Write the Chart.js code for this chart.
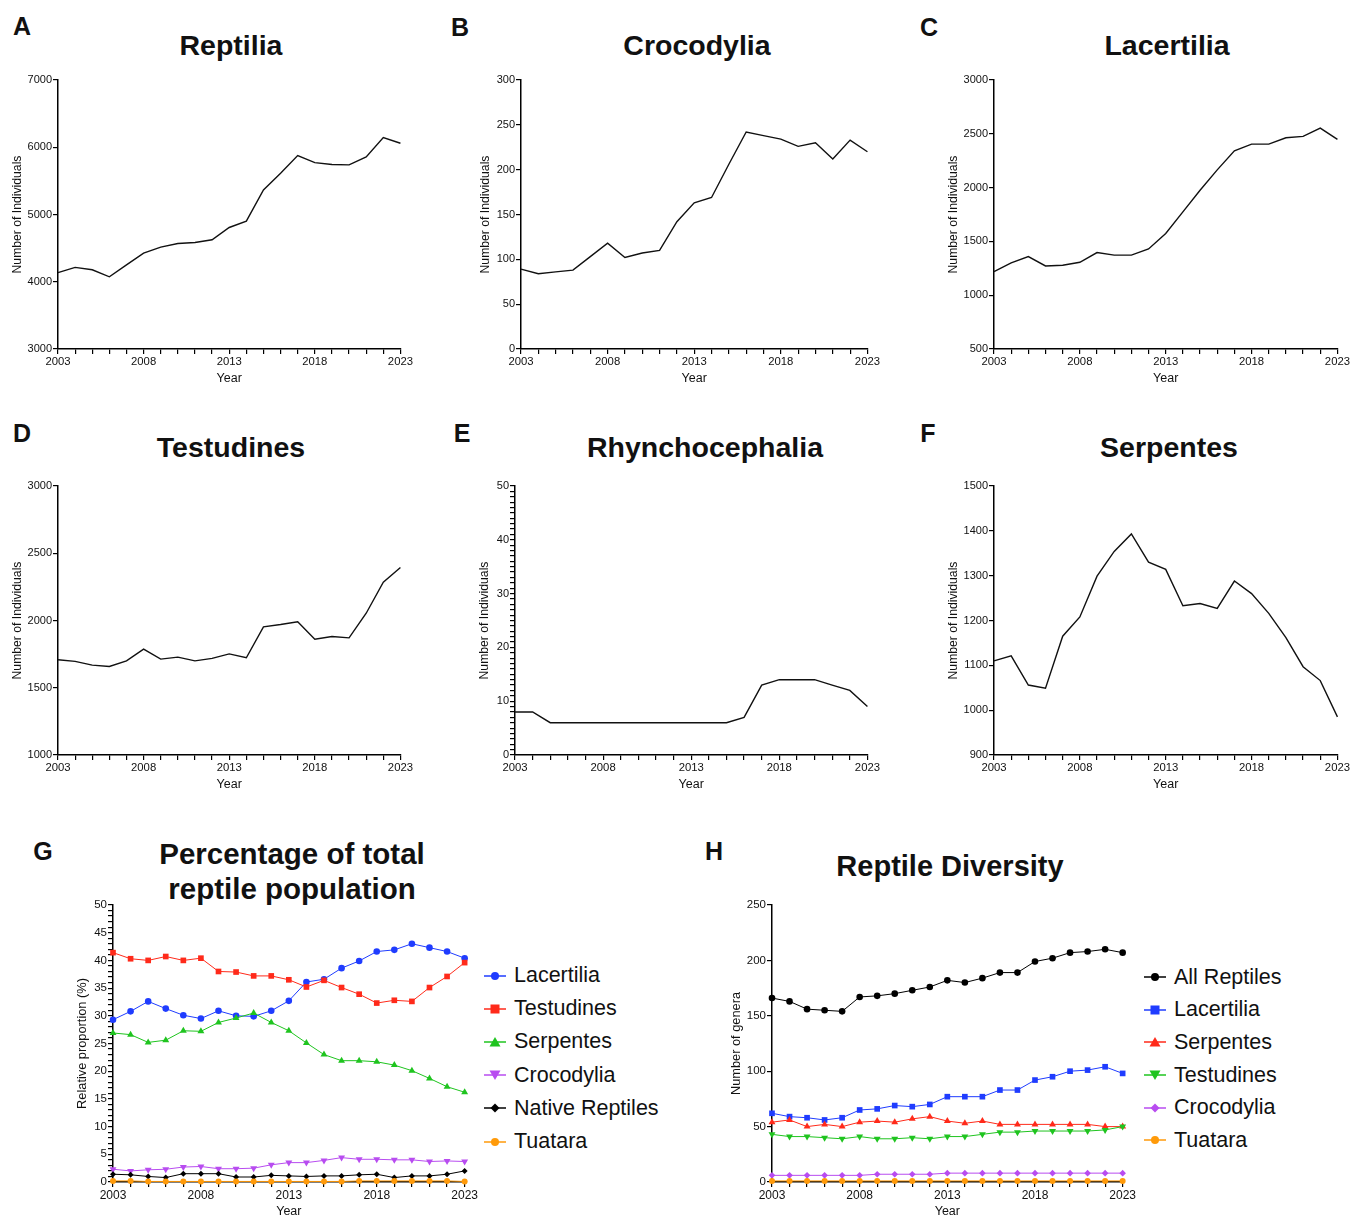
<!DOCTYPE html>
<html>
<head>
<meta charset="utf-8">
<script src="https://cdn.jsdelivr.net/npm/chart.js@4.4.0/dist/chart.umd.min.js"></script>
<style>
  html, body { margin: 0; padding: 0; background: #fff; overflow: hidden; }
  #page { position: relative; width: 1351px; height: 1216px; font-family: "Liberation Sans", Arial, Helvetica, sans-serif; color: #111; }
  .box { position: absolute; }
  .letter { position: absolute; font-weight: bold; font-size: 25px; line-height: 1; transform: translate(-50%, -50%); }
  .title { position: absolute; font-weight: bold; font-size: 28px; line-height: 1; transform: translate(-50%, -50%); white-space: nowrap; text-align: center; }
  .legend { position: absolute; font-size: 21.5px; }
  .legend div { display: flex; align-items: center; height: 33px; white-space: nowrap; }
  .legend svg { margin-right: 8px; }
</style>
</head>
<body>
<div id="page"></div>
<script>
const years = ['2003', '2004', '2005', '2006', '2007', '2008', '2009', '2010', '2011', '2012', '2013',
  '2014', '2015', '2016', '2017', '2018', '2019', '2020', '2021', '2022', '2023'];

// A-F: number of individuals
const reptilia = [4135, 4213, 4178, 4074, 4250, 4426, 4515, 4569, 4584, 4624, 4807,
  4901, 5366, 5614, 5876, 5772, 5743, 5738, 5856, 6144, 6059];
const crocodylia = [89, 84, 86, 88, 103, 118, 102, 107, 110, 142, 163,
  169, 206, 242, 238, 234, 226, 230, 212, 233, 220];
const lacertilia = [1220, 1300, 1359, 1272, 1278, 1306, 1396, 1372, 1372, 1430, 1573,
  1775, 1975, 2165, 2342, 2404, 2404, 2463, 2476, 2553, 2448];
const testudines = [1708, 1696, 1668, 1658, 1700, 1787, 1713, 1728, 1700, 1718, 1752,
  1723, 1953, 1970, 1990, 1861, 1881, 1871, 2054, 2285, 2394];
const rhynchocephalia = [8, 8, 6, 6, 6, 6, 6, 6, 6, 6, 6,
  6, 6, 7, 13, 14, 14, 14, 13, 12, 9];
const serpentes = [1110, 1121, 1056, 1049, 1165, 1208, 1299, 1354, 1393, 1330, 1314,
  1233, 1238, 1227, 1288, 1260, 1216, 1162, 1097, 1066, 985];

// G: percentage of total reptile population
const pctLacertilia = [29.3, 30.8, 32.6, 31.3, 30.1, 29.5, 30.9, 30.0, 29.9, 30.9, 32.7,
  36.1, 36.6, 38.6, 39.9, 41.6, 41.9, 43.0, 42.3, 41.6, 40.4];
const pctTestudines = [41.4, 40.3, 40.0, 40.7, 40.0, 40.4, 38.0, 37.9, 37.2, 37.2, 36.5,
  35.2, 36.4, 35.1, 33.9, 32.3, 32.8, 32.6, 35.1, 37.1, 39.6];
const pctSerpentes = [26.9, 26.6, 25.2, 25.6, 27.3, 27.2, 28.8, 29.6, 30.5, 28.8, 27.3,
  25.1, 23.0, 21.9, 21.9, 21.7, 21.1, 20.1, 18.7, 17.2, 16.2];
const pctCrocodylia = [2.3, 2.0, 2.2, 2.3, 2.7, 2.8, 2.4, 2.4, 2.5, 3.1, 3.5,
  3.5, 3.9, 4.4, 4.1, 4.1, 4.0, 4.0, 3.7, 3.8, 3.7];
const pctNative = [1.4, 1.3, 1.0, 0.8, 1.5, 1.5, 1.5, 0.9, 0.9, 1.2, 1.1,
  1.0, 1.1, 1.1, 1.3, 1.4, 0.8, 1.1, 1.1, 1.4, 2.0];
const pctTuatara = [0.2, 0.2, 0.1, 0.1, 0.1, 0.1, 0.1, 0.1, 0.1, 0.1, 0.1,
  0.1, 0.1, 0.1, 0.2, 0.2, 0.2, 0.2, 0.2, 0.2, 0.1];

// H: number of genera
const genAll = [166, 163, 156, 155, 154, 167, 168, 170, 173, 176, 182,
  180, 184, 189, 189, 199, 202, 207, 208, 210, 207];
const genLacertilia = [62, 59, 58, 56, 58, 65, 66, 69, 68, 70, 77,
  77, 77, 83, 83, 92, 95, 100, 101, 104, 98];
const genSerpentes = [54, 56, 50, 52, 50, 54, 55, 54, 57, 59, 55,
  53, 55, 52, 52, 52, 52, 52, 52, 50, 50];
const genTestudines = [43, 41, 41, 40, 39, 41, 39, 39, 40, 39, 41,
  41, 43, 45, 45, 46, 46, 46, 46, 47, 50];
const genCrocodylia = [6, 6, 6, 6, 6, 6, 7, 7, 7, 7, 8,
  8, 8, 8, 8, 8, 8, 8, 8, 8, 8];
const genTuatara = [1, 1, 1, 1, 1, 1, 1, 1, 1, 1, 1,
  1, 1, 1, 1, 1, 1, 1, 1, 1, 1];

const BLUE = '#1f3cff', RED = '#ff2a1a', GREEN = '#1fc41f', PURPLE = '#b84cf0', BLACK = '#000', ORANGE = '#ff9a0a';

Chart.defaults.font.family = '"Liberation Sans", Arial, Helvetica, sans-serif';
Chart.defaults.color = '#111';

const page = document.getElementById('page');

function addText(cls, x, y, html, extra) {
  page.insertAdjacentHTML('beforeend', `<div class="${cls}" style="left:${x}px;top:${y}px;${extra || ''}">${html}</div>`);
}

function addCanvas(id, left, top, w, h) {
  page.insertAdjacentHTML('beforeend',
    `<div class="box" style="left:${left}px;top:${top}px;width:${w}px;height:${h}px"><canvas id="${id}" width="${w}" height="${h}"></canvas></div>`);
  return document.getElementById(id).getContext('2d');
}

function xAxis(fs) {
  return {
    type: 'category',
    offset: false,
    grid: { drawOnChartArea: false, tickLength: 5, color: '#000', lineWidth: 1.2 },
    border: { color: '#000', width: 1.5 },
    ticks: {
      autoSkip: false, maxRotation: 0, padding: 1, font: { size: fs },
      callback: (v, i) => (i % 5 === 0 ? years[i] : ''),
    },
    title: { display: true, text: 'Year', font: { size: 12.5 }, padding: { top: 0, bottom: 3 } },
    afterFit: (s) => { s.height = 40; },
  };
}

function yAxis(min, max, step, major, text, wy, fs, tfs) {
  return {
    type: 'linear',
    min: min,
    max: max,
    grid: { drawOnChartArea: false, tickLength: 5, color: '#000', lineWidth: 1.2 },
    border: { color: '#000', width: 1.5 },
    ticks: {
      stepSize: step, autoSkip: false, padding: 1, font: { size: fs },
      callback: (v) => (v % major === 0 ? v : ''),
    },
    title: { display: true, text: text, font: { size: tfs }, padding: { top: 2, bottom: 0 } },
    afterFit: (s) => { s.width = wy; },
  };
}

function drawPanel(id, g, datasets, yScale, xfs) {
  const padT = 10, padR = 12;
  const ctx = addCanvas(id, g.axisX - g.wy, g.top - padT, g.wy + g.plotW + padR, padT + g.plotH + 40);
  return new Chart(ctx, {
    type: 'line',
    data: { labels: years, datasets: datasets },
    options: {
      responsive: false,
      animation: false,
      devicePixelRatio: 1,
      layout: { padding: { left: 0, top: padT, right: padR, bottom: 0 } },
      plugins: { legend: { display: false }, tooltip: { enabled: false } },
      scales: { x: xAxis(xfs || 11.3), y: yScale },
    },
  });
}

function simpleLine(values) {
  return [{ data: values, borderColor: '#111', borderWidth: 1.4, pointRadius: 0, tension: 0, fill: false }];
}

function markedLine(label, values, color, style, radius, rotation) {
  return {
    label: label, data: values, borderColor: color, backgroundColor: color, borderWidth: 1,
    pointStyle: style, pointRadius: radius, pointRotation: rotation || 0,
    pointBorderWidth: 0, tension: 0, fill: false, clip: false,
  };
}

// panel letters and titles
addText('letter', 22, 26, 'A');
addText('letter', 460, 27, 'B');
addText('letter', 929, 27, 'C');
addText('letter', 22, 433, 'D');
addText('letter', 462, 433, 'E');
addText('letter', 928, 433, 'F');
addText('letter', 43, 851, 'G');
addText('letter', 714, 851, 'H');

addText('title', 231, 45, 'Reptilia', 'font-size:28.5px');
addText('title', 697, 45, 'Crocodylia', 'font-size:28.5px');
addText('title', 1167, 45, 'Lacertilia', 'font-size:28.5px');
addText('title', 231, 447, 'Testudines', 'font-size:28.5px');
addText('title', 705, 447, 'Rhynchocephalia', 'font-size:28.5px');
addText('title', 1169, 447, 'Serpentes', 'font-size:28.5px');
addText('title', 292, 871, 'Percentage of total<br>reptile population', 'line-height:35px;font-size:29.5px');
addText('title', 950, 866, 'Reptile Diversity', 'font-size:29px');

const NI = 'Number of Individuals';

drawPanel('chartA', { axisX: 58, top: 80, plotW: 344, plotH: 269, wy: 50 },
  simpleLine(reptilia), yAxis(3000, 7000, 1000, 1000, NI, 50, 11, 12.2));
drawPanel('chartB', { axisX: 521, top: 80, plotW: 348, plotH: 269, wy: 45 },
  simpleLine(crocodylia), yAxis(0, 300, 50, 50, NI, 45, 11, 12.2));
drawPanel('chartC', { axisX: 994, top: 80, plotW: 345, plotH: 269, wy: 50 },
  simpleLine(lacertilia), yAxis(500, 3000, 500, 500, NI, 50, 11, 12.2));
drawPanel('chartD', { axisX: 58, top: 486, plotW: 344, plotH: 269, wy: 50 },
  simpleLine(testudines), yAxis(1000, 3000, 500, 500, NI, 50, 11, 12.2));
drawPanel('chartE', { axisX: 515, top: 486, plotW: 354, plotH: 269, wy: 40 },
  simpleLine(rhynchocephalia), yAxis(0, 50, 1, 10, NI, 40, 11, 12.2));
drawPanel('chartF', { axisX: 994, top: 486, plotW: 345, plotH: 269, wy: 50 },
  simpleLine(serpentes), yAxis(900, 1500, 100, 100, NI, 50, 11, 12.2));

drawPanel('chartG', { axisX: 113, top: 905, plotW: 354, plotH: 277, wy: 40 }, [
  markedLine('Tuatara', pctTuatara, ORANGE, 'circle', 3),
  markedLine('Native Reptiles', pctNative, BLACK, 'rectRot', 3),
  markedLine('Crocodylia', pctCrocodylia, PURPLE, 'triangle', 4, 180),
  markedLine('Serpentes', pctSerpentes, GREEN, 'triangle', 4),
  markedLine('Testudines', pctTestudines, RED, 'rect', 4),
  markedLine('Lacertilia', pctLacertilia, BLUE, 'circle', 3.3),
], yAxis(0, 50, 1, 5, 'Relative proportion (%)', 40, 11.5, 12.8), 12);

drawPanel('chartH', { axisX: 772, top: 905, plotW: 353, plotH: 277, wy: 45 }, [
  markedLine('Tuatara', genTuatara, ORANGE, 'circle', 3),
  markedLine('Crocodylia', genCrocodylia, PURPLE, 'rectRot', 3.3),
  markedLine('Testudines', genTestudines, GREEN, 'triangle', 4, 180),
  markedLine('Serpentes', genSerpentes, RED, 'triangle', 4),
  markedLine('Lacertilia', genLacertilia, BLUE, 'rect', 4),
  markedLine('All Reptiles', genAll, BLACK, 'circle', 3.3),
], yAxis(0, 250, 50, 50, 'Number of genera', 45, 11.5, 12.8), 12);

// legends (line + marker, like the original)
const markers = {
  circle: (c) => `<circle cx="11" cy="7" r="4" fill="${c}"/>`,
  rect: (c) => `<rect x="6.5" y="2.5" width="9" height="9" fill="${c}"/>`,
  tri: (c) => `<polygon points="11,2 16.5,11.5 5.5,11.5" fill="${c}"/>`,
  triDown: (c) => `<polygon points="5.5,2.5 16.5,2.5 11,12" fill="${c}"/>`,
  diamond: (c) => `<polygon points="11,2.5 15.5,7 11,11.5 6.5,7" fill="${c}"/>`,
};

function legend(x, y, items, rowH) {
  const rows = items.map(([label, color, m]) =>
    `<div style="height:${rowH}px"><svg width="22" height="14"><line x1="0" y1="7" x2="22" y2="7" stroke="${color}" stroke-width="1.5"/>${markers[m](color)}</svg>${label}</div>`
  ).join('');
  page.insertAdjacentHTML('beforeend', `<div class="legend" style="left:${x}px;top:${y}px">${rows}</div>`);
}

legend(484, 959, [
  ['Lacertilia', BLUE, 'circle'],
  ['Testudines', RED, 'rect'],
  ['Serpentes', GREEN, 'tri'],
  ['Crocodylia', PURPLE, 'triDown'],
  ['Native Reptiles', BLACK, 'diamond'],
  ['Tuatara', ORANGE, 'circle'],
], 33.2);

legend(1144, 961, [
  ['All Reptiles', BLACK, 'circle'],
  ['Lacertilia', BLUE, 'rect'],
  ['Serpentes', RED, 'tri'],
  ['Testudines', GREEN, 'triDown'],
  ['Crocodylia', PURPLE, 'diamond'],
  ['Tuatara', ORANGE, 'circle'],
], 32.6);
</script>
</body>
</html>
